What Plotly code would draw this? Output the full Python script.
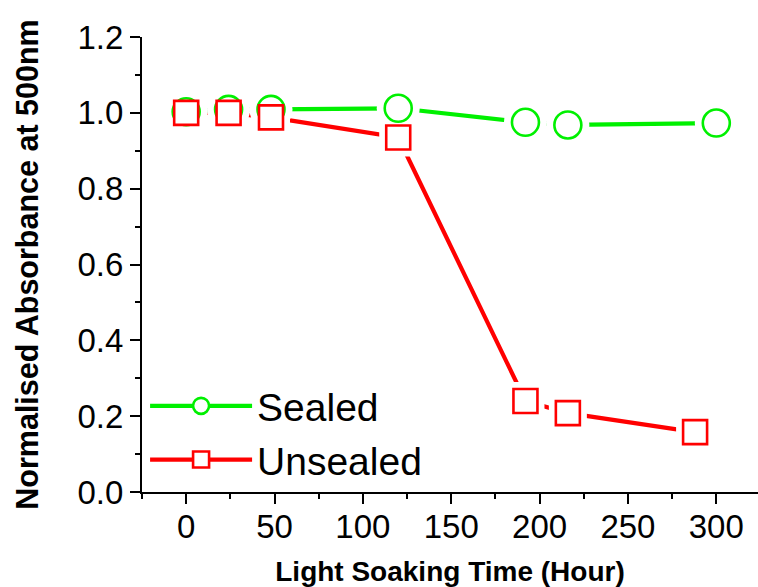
import plotly.graph_objects as go

# ---- data ----
hours_sealed = [0, 24, 48, 120, 192, 216, 300]
sealed = [1.003, 1.009, 1.009, 1.012, 0.975, 0.968, 0.973]
hours_unsealed = [0, 24, 48, 120, 192, 216, 288]
unsealed = [1.000, 1.000, 0.988, 0.935, 0.240, 0.208, 0.158]
x_ticks = [0, 50, 100, 150, 200, 250, 300]
y_ticks = [0.0, 0.2, 0.4, 0.6, 0.8, 1.0, 1.2]
y_tick_labels = ["0.0", "0.2", "0.4", "0.6", "0.8", "1.0", "1.2"]
series_names = ["Sealed", "Unsealed"]

GREEN = "#00F000"
RED = "#FF0000"
FONT = "Liberation Sans, Arial, sans-serif"
LW = 4.2

fig = go.Figure()
# connecting lines (no legend)
fig.add_trace(go.Scatter(x=hours_unsealed, y=unsealed, mode="lines",
                         line=dict(color=RED, width=LW), showlegend=False, hoverinfo="skip"))
fig.add_trace(go.Scatter(x=hours_sealed, y=sealed, mode="lines",
                         line=dict(color=GREEN, width=LW), showlegend=False, hoverinfo="skip"))
# white halos to create gaps around markers
fig.add_trace(go.Scatter(x=hours_sealed, y=sealed, mode="markers",
                         marker=dict(symbol="circle", size=43, color="white", line=dict(width=0)),
                         showlegend=False, hoverinfo="skip"))
fig.add_trace(go.Scatter(x=hours_unsealed, y=unsealed, mode="markers",
                         marker=dict(symbol="square", size=38, color="white", line=dict(width=0)),
                         showlegend=False, hoverinfo="skip"))
# markers
fig.add_trace(go.Scatter(x=hours_sealed, y=sealed, mode="markers", name=series_names[0],
                         showlegend=False,
                         marker=dict(symbol="circle", size=27, color="white",
                                     line=dict(color=GREEN, width=2.6))))
fig.add_trace(go.Scatter(x=hours_unsealed, y=unsealed, mode="markers", name=series_names[1],
                         showlegend=False,
                         marker=dict(symbol="square", size=24, color="white",
                                     line=dict(color=RED, width=2.6))))
# legend entries (line + marker symbol)
fig.add_trace(go.Scatter(x=[None], y=[None], mode="lines+markers", name=series_names[0],
                         line=dict(color=GREEN, width=LW),
                         marker=dict(symbol="circle", size=27, color="white",
                                     line=dict(color=GREEN, width=2.6))))
fig.add_trace(go.Scatter(x=[None], y=[None], mode="lines+markers", name=series_names[1],
                         line=dict(color=RED, width=LW),
                         marker=dict(symbol="square", size=24, color="white",
                                     line=dict(color=RED, width=2.6))))

fig.update_layout(
    width=758, height=587,
    margin=dict(l=142, r=0, t=37, b=95),
    paper_bgcolor="white", plot_bgcolor="white",
    font=dict(family=FONT, color="black"),
    showlegend=True,
    legend=dict(x=0.005, y=0.0, xanchor="left", yanchor="bottom",
                font=dict(size=39, family=FONT), itemwidth=102,
                bgcolor="rgba(0,0,0,0)", tracegroupgap=0),
    xaxis=dict(range=[-25, 323.6], tickvals=x_ticks, showline=True, linecolor="black",
               linewidth=2, ticks="outside", ticklen=10, tickwidth=2, tickcolor="black",
               showgrid=False, zeroline=False, tickfont=dict(size=33), automargin=False,
               ticklabelstandoff=-6,
               minor=dict(dtick=25, tick0=0, ticks="outside", ticklen=5, tickwidth=2, tickcolor="black", showgrid=False),
               title=dict(text="<b>Light Soaking Time (Hour)</b>", font=dict(size=28), standoff=26)),
    yaxis=dict(range=[0, 1.2], tickvals=y_ticks, ticktext=y_tick_labels, showline=True,
               linecolor="black", linewidth=2, ticks="outside", ticklen=10, tickwidth=2,
               tickcolor="black", showgrid=False, zeroline=False, tickfont=dict(size=33), automargin=False,
               minor=dict(dtick=0.1, tick0=0, ticks="outside", ticklen=5, tickwidth=2, tickcolor="black", showgrid=False),
               title=dict(text="<b>Normalised Absorbance at 500nm</b>", font=dict(size=30.5), standoff=30)),
)

fig.write_html("out.html", config={"displayModeBar": False},
               post_script="document.body.style.margin='0';document.body.style.overflow='hidden';")
